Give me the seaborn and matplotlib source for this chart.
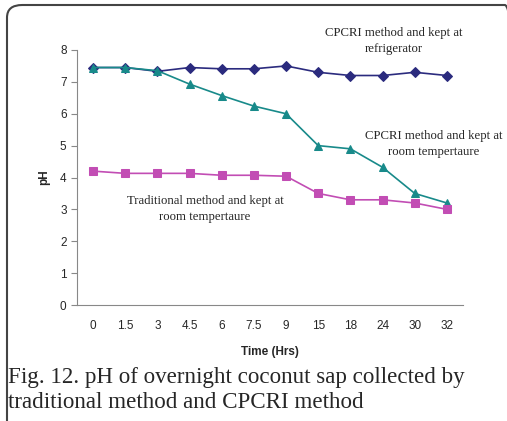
import matplotlib
matplotlib.use("Agg")
import matplotlib.pyplot as plt
import seaborn as sns
import pandas as pd
from matplotlib.patches import FancyBboxPatch

time_labels = ["0", "1.5", "3", "4.5", "6", "7.5", "9", "15", "18", "24", "30", "32"]
fridge = [7.45, 7.45, 7.33, 7.45, 7.41, 7.41, 7.5, 7.3, 7.2, 7.2, 7.3, 7.2]
cpcri_room = [7.45, 7.45, 7.35, 6.93, 6.57, 6.24, 6.0, 5.0, 4.9, 4.32, 3.5, 3.2]
traditional = [4.2, 4.13, 4.13, 4.13, 4.07, 4.07, 4.04, 3.5, 3.3, 3.3, 3.2, 3.0]

series_names = ["fridge", "cpcri_room", "traditional"]
colors = {"fridge": "#2B2B7E", "cpcri_room": "#188A8A", "traditional": "#C24DB4"}
markers = {"fridge": "D", "cpcri_room": "^", "traditional": "s"}

rows = []
for name, vals in zip(series_names, [fridge, cpcri_room, traditional]):
    for i, v in enumerate(vals):
        rows.append({"pos": i, "pH": v, "series": name})
df = pd.DataFrame(rows)

sns.set_style("white")
plt.rcParams['font.family'] = ['Liberation Sans', 'DejaVu Sans']

fig = plt.figure(figsize=(5.07, 4.21), dpi=100)
ax = fig.add_axes([77/507, 1-305/421, 386/507, 255/421])

for name in series_names:
    sub = df[df.series == name]
    sns.lineplot(data=sub, x="pos", y="pH", ax=ax, color=colors[name],
                 marker=markers[name], markersize=6 if name != "fridge" else 5,
                 markeredgecolor=colors[name], linewidth=1.2, legend=False)

ax.set_xlim(-0.5, 11.5)
ax.set_ylim(0, 8)
ax.set_xticks(range(len(time_labels)))
ax.set_xticklabels(time_labels, fontsize=8.5)
ax.set_xticks([i + 0.5 for i in range(-1, 12)], minor=True)
ax.tick_params(axis='x', which='major', length=0, pad=11)
ax.tick_params(axis='x', which='minor', length=4, color='#888888', direction='out')
ax.set_yticks(range(0, 9))
ax.tick_params(axis='y', labelsize=8.5, length=4, color='#888888', direction='out', left=True)
for s in ["top", "right"]:
    ax.spines[s].set_visible(False)
for s in ["left", "bottom"]:
    ax.spines[s].set_color('#888888')
    ax.spines[s].set_linewidth(0.8)

ax.set_xlabel("Time (Hrs)", fontsize=8.5, fontweight='bold', labelpad=10)
ax.set_ylabel("pH", fontsize=8.5, fontweight='bold', labelpad=7)

serif = ['Liberation Serif', 'DejaVu Serif']
ax.text(394/507, 1-41/421, "CPCRI method and kept at\nrefrigerator", transform=fig.transFigure,
        ha='center', va='center', fontsize=9.2, family=serif, linespacing=1.55)
ax.text(434/507, 1-144/421, "CPCRI method and kept at\nroom tempertaure", transform=fig.transFigure,
        ha='center', va='center', fontsize=9.2, family=serif, linespacing=1.55)
ax.text(205/507, 1-209/421, "Traditional method and kept at\nroom tempertaure", transform=fig.transFigure,
        ha='center', va='center', fontsize=9.2, family=serif, linespacing=1.55)

fig.text(8/507, 1-378/421, "Fig. 12. pH of overnight coconut sap collected by", fontsize=16.6,
         family=serif, ha='left', va='center')
fig.text(8/507, 1-403/421, "traditional method and CPCRI method", fontsize=16.6,
         family=serif, ha='left', va='center')

box = FancyBboxPatch((7/507, -12/421), (520/507) - (7/507), (416/421) - (-12/421),
                     boxstyle="round,pad=0,rounding_size=0.03", transform=fig.transFigure,
                     fill=False, edgecolor='#444444', linewidth=1.5, clip_on=False)
fig.patches.append(box)

fig.savefig("out.png", dpi=100)
